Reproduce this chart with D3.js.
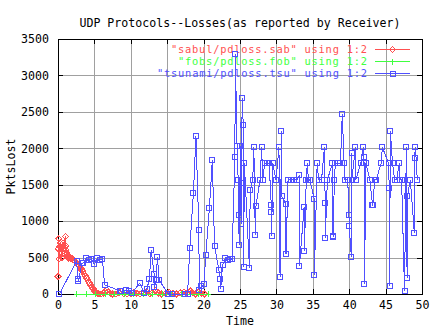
<!DOCTYPE html>
<html>
<head>
<meta charset="utf-8">
<script src="https://cdn.jsdelivr.net/npm/d3@7"></script>
<style>
  html, body { margin: 0; padding: 0; background: #fff; }
  svg { display: block; }
  text { font-family: "DejaVu Sans Mono", monospace; font-size: 11.6px; fill: #000; }
</style>
</head>
<body>
<svg id="chart" width="432" height="328"></svg>
<script>
// Packet loss per second reported by the receiver, for three UDP transfer protocols.
const title = "UDP Protocols--Losses(as reported by Receiver)";
const xLabel = "Time";
const yLabel = "PktsLost";
const xTicks = [0, 5, 10, 15, 20, 25, 30, 35, 40, 45, 50];
const yTicks = [0, 500, 1000, 1500, 2000, 2500, 3000, 3500];
const seriesNames = [
  '"sabul/pdloss.sab" using 1:2',
  '"fobs/pdloss.fob" using 1:2',
  '"tsunami/pdloss.tsu" using 1:2'
];

// [time, packets lost]
const sabul = [
  [0.0, 240], [0.05, 620], [0.1, 760], [0.15, 480], [0.2, 650], [0.3, 700], [0.35, 580],
  [0.4, 620], [0.5, 680], [0.55, 500], [0.6, 640], [0.7, 700], [0.8, 620], [0.9, 680],
  [1.0, 790], [1.05, 660], [1.1, 600], [1.2, 560], [1.3, 520], [1.4, 500], [1.5, 490],
  [1.65, 500], [1.8, 480], [1.95, 490], [2.1, 470], [2.25, 465], [2.4, 450], [2.55, 430],
  [2.7, 410], [2.85, 390], [3.0, 370], [3.15, 350], [3.3, 320], [3.45, 300], [3.6, 270],
  [3.75, 250], [3.9, 220], [4.05, 200], [4.2, 170], [4.35, 150], [4.5, 120], [4.65, 100],
  [4.8, 75], [4.95, 55], [5.1, 35], [5.25, 20], [5.4, 10], [5.6, 5],
  [5.9, 0], [6.2, 10], [6.5, 40], [6.7, 55], [6.9, 30], [7.2, 10], [7.5, 0], [8.0, 0],
  [8.4, 20], [8.7, 35], [9.0, 10], [9.5, 0], [10.0, 5], [10.4, 25], [10.8, 10], [11.3, 0],
  [11.8, 15], [12.2, 30], [12.6, 5], [13.0, 20], [13.4, 45], [13.8, 15], [14.2, 0],
  [14.8, 10], [15.3, 25], [15.8, 5], [16.3, 0], [16.8, 15], [17.3, 30], [17.7, 10],
  [18.2, 40], [18.5, 15], [18.9, 0], [19.3, 25], [19.7, 10], [20.1, 0]
];

const fobs = [
  [2.6, 0], [3.9, 0], [5.2, 0], [6.5, 0], [7.8, 0], [9.1, 0], [10.4, 0], [11.7, 0],
  [13.0, 0], [14.3, 0], [15.6, 0], [16.9, 0], [18.2, 0], [19.3, 0], [20.65, 0]
];

const tsunami = [
  [0.2, 0], [2.55, 450], [2.75, 210], [2.8, 180], [3.3, 420], [3.5, 430], [3.85, 490],
  [4.3, 465], [4.6, 480], [5.0, 410], [5.4, 490], [5.75, 465], [6.1, 480], [6.4, 125],
  [8.5, 45], [8.7, 40], [9.4, 50], [9.8, 35], [10.2, 18], [11.2, 145], [11.85, 18],
  [12.2, 65], [12.55, 205], [12.8, 600], [13.2, 275], [13.25, 90], [13.5, 190],
  [13.65, 505], [13.9, 190], [15.15, 0], [15.6, 0], [17.4, 0], [17.8, 0], [18.1, 625],
  [18.6, 1385], [18.95, 2170], [19.35, 880], [19.4, 55], [19.7, 110], [20.05, 135],
  [20.3, 535], [20.8, 1180], [21.2, 1840], [21.5, 660], [22.1, 330], [22.3, 200],
  [22.35, 70], [22.6, 395], [23.0, 490], [23.3, 470], [23.6, 475], [23.9, 480],
  [24.3, 1875], [24.35, 3300], [24.6, 2025], [24.75, 1565], [24.8, 1090], [24.9, 675],
  [25.05, 2025], [25.1, 1530], [25.15, 960], [25.3, 2690], [25.45, 2320], [25.5, 365],
  [25.6, 1795], [26.3, 355], [26.4, 1430], [26.75, 1565], [26.9, 2015], [27.1, 810],
  [27.2, 1210], [27.75, 1565], [27.98, 2015], [28.1, 1565], [28.4, 1795], [28.7, 1795],
  [29.0, 1795], [29.3, 1220], [29.32, 1120], [29.35, 795], [29.5, 1795], [29.95, 1565],
  [30.35, 2015], [30.5, 240], [30.7, 2240], [30.75, 1340], [31.3, 1235], [31.32, 550],
  [31.6, 1565], [32.0, 1565], [32.4, 1565], [32.8, 1565], [33.15, 1630], [33.17, 385],
  [33.8, 1190], [33.85, 590], [34.1, 1565], [34.25, 1795], [34.4, 1565], [34.6, 1565],
  [35.2, 1305], [35.22, 260], [35.6, 1795], [35.8, 1565], [36.2, 1565], [36.6, 2015],
  [36.7, 1245], [36.72, 770], [37.0, 1565], [37.7, 1795], [37.78, 785], [37.82, 790],
  [37.95, 1565], [38.1, 1795], [38.5, 1795], [38.8, 1795], [39.05, 2470], [39.3, 1795],
  [39.4, 1565], [39.8, 1565], [39.97, 1085], [40.0, 935], [40.3, 505], [40.32, 1940],
  [40.35, 1565], [40.85, 2015], [40.9, 1565], [41.6, 1795], [41.95, 2015], [42.0, 1875],
  [42.05, 1795], [42.1, 135], [42.3, 1795], [42.85, 1565], [43.2, 1220], [43.25, 1220],
  [43.5, 1565], [43.7, 1565], [44.4, 1800], [44.55, 2015], [45.4, 1800], [45.5, 1450],
  [45.55, 110], [45.65, 2235], [45.95, 1800], [46.25, 1565], [46.5, 1565], [46.9, 1800],
  [47.0, 1565], [47.2, 1565], [47.6, 40], [47.85, 2015], [47.95, 215], [48.0, 1345],
  [48.4, 1565], [48.95, 835], [48.97, 1865], [49.1, 2015], [49.35, 1565]
];

const colors = ["#ff5050", "#40ff40", "#5050ff"];
const markers = ["diamond", "plus", "square"];

const svg = d3.select("#chart");
const margin = { left: 58, right: 10, top: 39, bottom: 34 };
const W = 432, H = 328;
const x = d3.scaleLinear().domain([0, 50]).range([margin.left, W - margin.right]);
const y = d3.scaleLinear().domain([0, 3500]).range([H - margin.bottom, margin.top]);
const x0 = x.range()[0], x1 = x.range()[1], y0 = y.range()[0], y1 = y.range()[1];

// grid
const grid = svg.append("g").attr("shape-rendering", "crispEdges");
grid.selectAll(".gx").data(xTicks.slice(1, -1)).join("line")
  .attr("x1", d => Math.round(x(d)) + 0.5).attr("x2", d => Math.round(x(d)) + 0.5)
  .attr("y1", y1).attr("y2", y0).attr("stroke", "#a0a0a0");
grid.selectAll(".gy").data(yTicks.slice(1, -1)).join("line")
  .attr("y1", d => Math.round(y(d)) + 0.5).attr("y2", d => Math.round(y(d)) + 0.5)
  .attr("x1", x0).attr("x2", x1).attr("stroke", "#a0a0a0");

// axes with inward ticks, mirrored on opposite borders
const tickLen = 5;
const axB = d3.axisBottom(x).tickValues(xTicks).tickSize(-tickLen).tickPadding(7).tickFormat(d3.format("d"));
const axT = d3.axisTop(x).tickValues(xTicks).tickSize(-tickLen).tickFormat("");
const axL = d3.axisLeft(y).tickValues(yTicks).tickSize(-tickLen).tickPadding(9).tickFormat(d3.format("d"));
const axR = d3.axisRight(y).tickValues(yTicks).tickSize(-tickLen).tickFormat("");

function styleAxis(g) {
  g.attr("shape-rendering", "crispEdges");
  g.select(".domain").remove();
  g.selectAll("line").attr("stroke", "#000");
  g.selectAll("text").attr("font-family", "DejaVu Sans Mono, monospace").attr("font-size", "11.6px").attr("fill", "#000");
}
svg.append("g").attr("transform", `translate(0,${y0})`).call(axB).call(styleAxis);
svg.append("g").attr("transform", `translate(0,${y1})`).call(axT).call(styleAxis);
svg.append("g").attr("transform", `translate(${x0},0)`).call(axL).call(styleAxis);
svg.append("g").attr("transform", `translate(${x1},0)`).call(axR).call(styleAxis);

// border
svg.append("rect").attr("x", x0 + 0.5).attr("y", y1 + 0.5)
  .attr("width", x1 - x0).attr("height", y0 - y1)
  .attr("fill", "none").attr("stroke", "#000").attr("shape-rendering", "crispEdges");

// titles
svg.append("text").attr("x", (x0 + x1) / 2).attr("y", 27).attr("text-anchor", "middle").text(title);
svg.append("text").attr("x", (x0 + x1) / 2).attr("y", 325).attr("text-anchor", "middle").text(xLabel);
svg.append("text").attr("transform", `translate(15,${(y0 + y1) / 2}) rotate(-90)`)
  .attr("text-anchor", "middle").text(yLabel);

function drawMarker(g, type, cx, cy, color) {
  if (type === "diamond") {
    g.append("path").attr("d", `M${cx},${cy - 3}L${cx + 3},${cy}L${cx},${cy + 3}L${cx - 3},${cy}Z`)
      .attr("fill", "none").attr("stroke", color);
  } else if (type === "plus") {
    g.append("path").attr("d", `M${cx - 3},${cy}H${cx + 3}M${cx},${cy - 3}V${cy + 3}`)
      .attr("fill", "none").attr("stroke", color);
  } else {
    g.append("rect").attr("x", Math.round(cx) - 2.5).attr("y", Math.round(cy) - 2.5)
      .attr("width", 5).attr("height", 5).attr("fill", "none").attr("stroke", color);
  }
}

const line = d3.line().x(d => x(d[0])).y(d => y(d[1]));
const allSeries = [sabul, fobs, tsunami];
const legendX = 367, legendY = [49, 61, 73];

allSeries.forEach((data, i) => {
  const g = svg.append("g").attr("shape-rendering", "crispEdges");
  g.append("path").datum(data).attr("d", line)
    .attr("fill", "none").attr("stroke", colors[i]).attr("stroke-width", 1);
  data.forEach(d => drawMarker(g, markers[i], x(d[0]), y(d[1]), colors[i]));
  // key entry: monospace text kept at 7px per character
  const ly = legendY[i];
  svg.append("text").attr("x", legendX).attr("y", ly).attr("dy", "0.35em")
    .attr("text-anchor", "end").style("font-size", "10.4px")
    .attr("textLength", seriesNames[i].length * 7).attr("lengthAdjust", "spacing")
    .style("fill", colors[i]).text(seriesNames[i]);
  const lg = svg.append("g").attr("shape-rendering", "crispEdges");
  lg.append("line").attr("x1", 375).attr("x2", 410).attr("y1", ly + 0.5).attr("y2", ly + 0.5).attr("stroke", colors[i]);
  drawMarker(lg, markers[i], 392.5, ly + 0.5, colors[i]);
});
</script>
</body>
</html>
